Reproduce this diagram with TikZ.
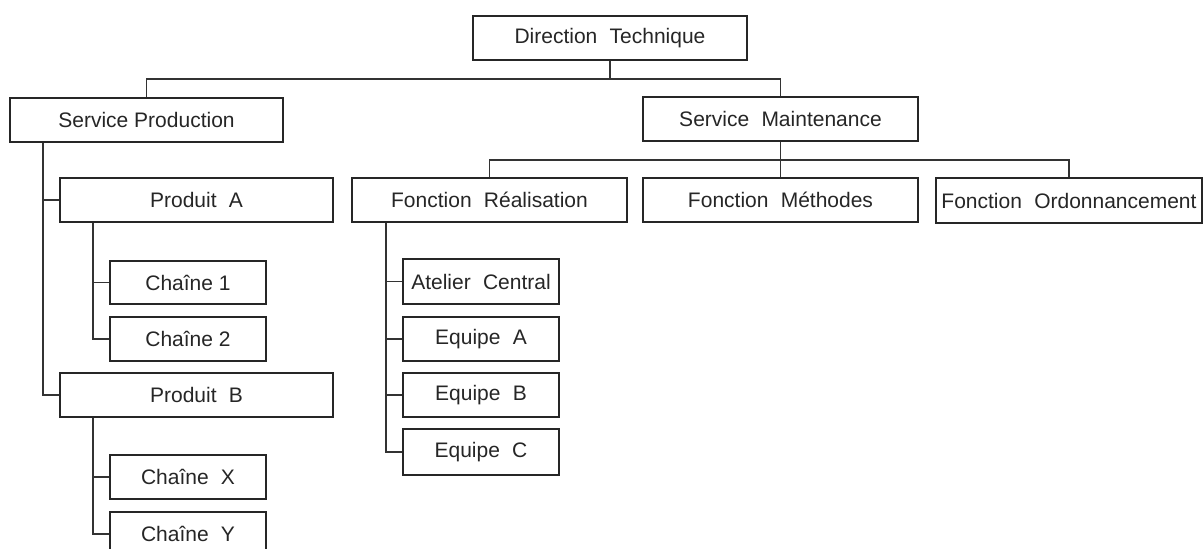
\documentclass[tikz,border=0pt]{standalone}
\usepackage{fontspec}
\setmainfont{Liberation Sans}[WordSpace=2.1]
\newcommand{\nsp}{\hspace{0.278em}}
\begin{document}
\begin{tikzpicture}[x=1pt,y=-1pt,
  orgbox/.style={draw=black!85, line width=1.5pt, fill=white, inner sep=0pt,
    text=black!85, font=\fontsize{21}{25}\selectfont, anchor=center},
  conn/.style={draw=black!80, line width=1.4pt}]
\useasboundingbox (0,0) rectangle (1203,549);
\clip (0,0) rectangle (1203,549);
% top level
\node[orgbox, minimum width=274pt, minimum height=44pt] (dt) at (610,38) {Direction Technique};
% services
\node[orgbox, minimum width=273pt, minimum height=44pt] (sp) at (146.5,120) {Service\nsp Production};
\node[orgbox, minimum width=275pt, minimum height=44pt] (sm) at (780.5,119) {Service Maintenance};
% production branch
\node[orgbox, minimum width=273pt, minimum height=44pt] (pa) at (196.5,200) {Produit A};
\node[orgbox, minimum width=273pt, minimum height=44pt] (pb) at (196.5,395) {Produit B};
\node[orgbox, minimum width=156pt, minimum height=43pt] (c1) at (188,282.5) {Chaîne\nsp 1};
\node[orgbox, minimum width=156pt, minimum height=44pt] (c2) at (188,339) {Chaîne\nsp 2};
\node[orgbox, minimum width=156pt, minimum height=44pt] (cx) at (188,477) {Chaîne X};
\node[orgbox, minimum width=156pt, minimum height=44pt] (cy) at (188,534) {Chaîne Y};
% maintenance branch
\node[orgbox, minimum width=275pt, minimum height=44pt] (fr) at (489.5,200) {Fonction Réalisation};
\node[orgbox, minimum width=275pt, minimum height=44pt] (fm) at (780.5,200) {Fonction Méthodes};
\node[orgbox, minimum width=266pt, minimum height=45pt] (fo) at (1069,200.5) {Fonction Ordonnancement};
\node[orgbox, minimum width=156pt, minimum height=45pt] (ac) at (481,281.5) {Atelier Central};
\node[orgbox, minimum width=156pt, minimum height=44pt] (ea) at (481,339) {Equipe A};
\node[orgbox, minimum width=156pt, minimum height=44pt] (eb) at (481,395) {Equipe B};
\node[orgbox, minimum width=156pt, minimum height=46pt] (ec) at (481,452) {Equipe C};
% bus lines and spines
\coordinate (dtbus) at (610,79);
\coordinate (smbus) at (780,160);
\coordinate (spx) at (43,0);
\coordinate (pax) at (93,0);
\coordinate (frx) at (386,0);
% direction -> services
\draw[conn] (dt.south) -- (dtbus);
\draw[conn] (sp.north) |- (dtbus) -| (sm.north);
% maintenance -> functions
\draw[conn] (sm.south) -- (fm.north);
\draw[conn] (fr.north) |- (smbus) -| (fo.north);
% production -> products
\draw[conn] (spx |- sp.south) |- (pb.west);
\draw[conn] (spx |- pa.west) -- (pa.west);
% product A -> lines
\draw[conn] (pax |- pa.south) |- (c2.west);
\draw[conn] (pax |- c1.west) -- (c1.west);
% product B -> lines
\draw[conn] (pax |- pb.south) |- (cy.west);
\draw[conn] (pax |- cx.west) -- (cx.west);
% realisation -> teams
\draw[conn] (frx |- fr.south) |- (ec.west);
\draw[conn] (frx |- ac.west) -- (ac.west);
\draw[conn] (frx |- ea.west) -- (ea.west);
\draw[conn] (frx |- eb.west) -- (eb.west);
\end{tikzpicture}
\end{document}
